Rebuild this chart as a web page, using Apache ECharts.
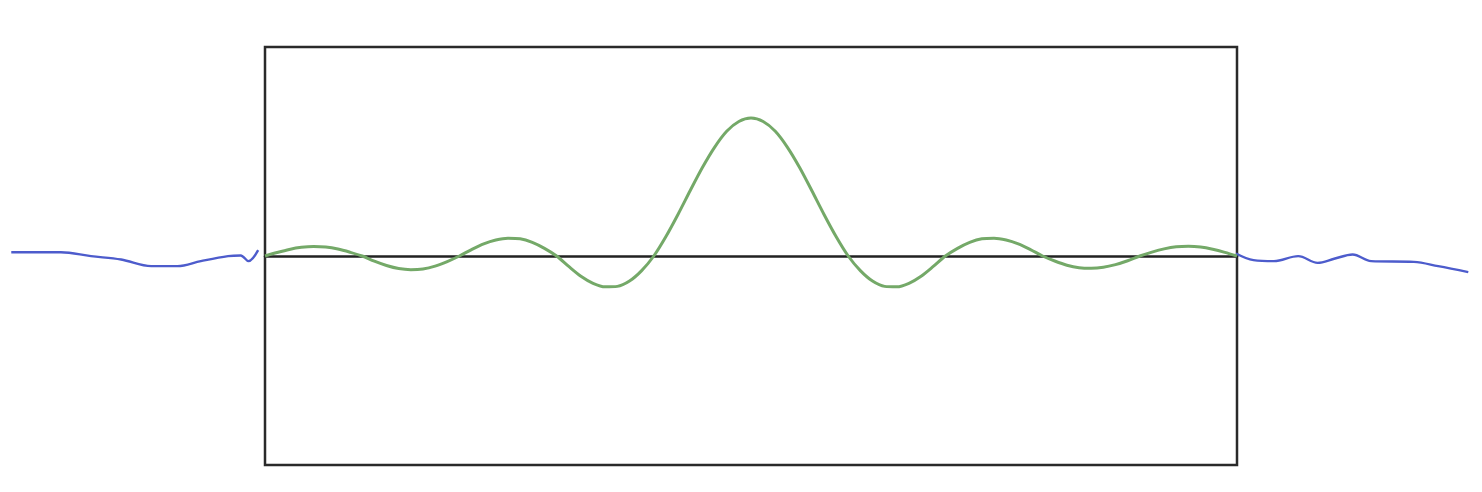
<!DOCTYPE html>
<html>
<head>
<meta charset="utf-8">
<script src="https://cdn.jsdelivr.net/npm/echarts@6/dist/echarts.min.js"></script>
<style>html,body{margin:0;padding:0;background:#fff;}#c{width:1482px;height:492px;}</style>
</head>
<body>
<div id="c"></div>
<script>
// Green curve (inside the box)
const greenX = [-5, -4.875, -4.75, -4.625, -4.5, -4.375, -4.25, -4.125,
  -4, -3.875, -3.75, -3.625, -3.5, -3.375, -3.25, -3.125,
  -3, -2.875, -2.75, -2.625, -2.5, -2.375, -2.25, -2.125,
  -2, -1.875, -1.75, -1.625, -1.5, -1.375, -1.25, -1.125,
  -1, -0.875, -0.75, -0.625, -0.5, -0.375, -0.25, -0.125,
  0, 0.125, 0.25, 0.375, 0.5, 0.625, 0.75, 0.875,
  1, 1.125, 1.25, 1.375, 1.5, 1.625, 1.75, 1.875,
  2, 2.125, 2.25, 2.375, 2.5, 2.625, 2.75, 2.875,
  3, 3.125, 3.25, 3.375, 3.5, 3.625, 3.75, 3.875,
  4, 4.125, 4.25, 4.375, 4.5, 4.625, 4.75, 4.875, 5];
const greenY = [0, 0.025, 0.047, 0.062, 0.068, 0.064, 0.05, 0.027,
  0, -0.037, -0.068, -0.09, -0.098, -0.093, -0.073, -0.04,
  0, 0.046, 0.087, 0.115, 0.128, 0.124, 0.098, 0.055,
  0, -0.075, -0.145, -0.196, -0.221, -0.218, -0.18, -0.105,
  0, 0.14, 0.3, 0.47, 0.635, 0.78, 0.895, 0.965,
  0.99, 0.965, 0.895, 0.78, 0.635, 0.47, 0.3, 0.14,
  0, -0.105, -0.18, -0.218, -0.221, -0.196, -0.145, -0.075,
  0, 0.055, 0.098, 0.124, 0.128, 0.115, 0.087, 0.046,
  0, -0.036, -0.066, -0.084, -0.088, -0.081, -0.062, -0.034,
  0, 0.028, 0.051, 0.066, 0.07, 0.064, 0.048, 0.026, 0];
// Blue squiggles outside the box
const blueLeftX = [-7.61, -7.10, -6.79, -6.48, -6.17, -5.90, -5.66, -5.38, -5.25, -5.17, -5.07];
const blueLeftY = [0.027, 0.027, -0.001, -0.025, -0.073, -0.073, -0.037, -0.001, 0.004, -0.037, 0.042];
const blueRightX = [4.99, 5.17, 5.38, 5.63, 5.83, 6.00, 6.19, 6.38, 6.82, 7.07, 7.38];
const blueRightY = [0.018, -0.030, -0.037, -0.001, -0.049, -0.020, 0.011, -0.037, -0.042, -0.073, -0.116];

const pairs = (xs, ys) => xs.map((x, i) => [x, ys[i]]);
const hidden = {axisLine: {show: false}, axisTick: {show: false}, axisLabel: {show: false}, splitLine: {show: false}};

const chart = echarts.init(document.getElementById('c'), null, {renderer: 'canvas'});
chart.setOption({
  animation: false,
  backgroundColor: '#ffffff',
  grid: [
    {left: 265, right: 245, top: 47, bottom: 27, show: true, borderColor: '#2a2a2a', borderWidth: 2.5, backgroundColor: 'transparent'},
    {left: 0, right: 0, top: 47, bottom: 27, show: false}
  ],
  xAxis: [
    {type: 'value', gridIndex: 0, min: -5, max: 5,
     axisLine: {show: true, onZero: true, lineStyle: {color: '#222', width: 2.5}},
     axisTick: {show: false}, axisLabel: {show: false}, splitLine: {show: false}},
    Object.assign({type: 'value', gridIndex: 1, min: -7.726, max: 7.521}, hidden)
  ],
  yAxis: [
    Object.assign({type: 'value', gridIndex: 0, min: -1.5, max: 1.5}, hidden),
    Object.assign({type: 'value', gridIndex: 1, min: -1.5, max: 1.5}, hidden)
  ],
  series: [
    {type: 'line', xAxisIndex: 1, yAxisIndex: 1, data: pairs(blueLeftX, blueLeftY), smooth: 0.35, showSymbol: false,
     lineStyle: {color: '#4d5ccc', width: 2.4}},
    {type: 'line', xAxisIndex: 1, yAxisIndex: 1, data: pairs(blueRightX, blueRightY), smooth: 0.35, showSymbol: false,
     lineStyle: {color: '#4d5ccc', width: 2.4}},
    {type: 'line', xAxisIndex: 0, yAxisIndex: 0, data: pairs(greenX, greenY), smooth: 0.3, showSymbol: false, clip: false,
     lineStyle: {color: '#74a968', width: 3}}
  ]
});
</script>
</body>
</html>
